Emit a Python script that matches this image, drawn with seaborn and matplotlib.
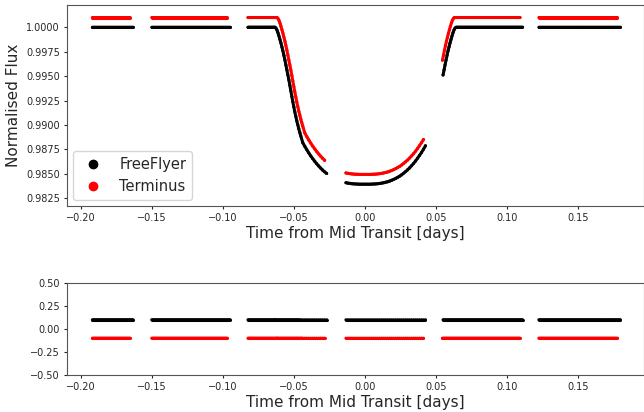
import numpy as np
import pandas as pd
import matplotlib
matplotlib.use("Agg")
import matplotlib.pyplot as plt
from matplotlib.lines import Line2D
import seaborn as sns

# ---------------------------------------------------------------------------
# Light-curve data (time in days from mid-transit)
# ---------------------------------------------------------------------------
instruments = ["FreeFlyer", "Terminus"]
colours = ["black", "red"]

CADENCE = 0.0007  # out-of-transit sampling interval [days]

# observing windows (start, end) for each instrument
ff_windows = [(-0.1920, -0.1627), (-0.1502, -0.0944), (-0.0824, -0.0270),
              (-0.0134, 0.0426), (0.0550, 0.1113), (0.1225, 0.1800)]
tm_windows = [(-0.1920, -0.1648), (-0.1502, -0.0965), (-0.0824, -0.0284),
              (-0.0134, 0.0412), (0.0546, 0.1096), (0.1225, 0.1780)]

# out-of-transit level and transit edges
ff_baseline = 1.000
tm_baseline = 1.001
ff_edges = (-0.0634, 0.0634)
tm_edges = (-0.0620, 0.0623)

# FreeFlyer in-transit samples: (first time, step, flux values)
ff_ingress = (-0.0634, 0.0007, [
    1.00000, 0.99990, 0.99972, 0.99944, 0.99911, 0.99875, 0.99839, 0.99798,
    0.99758, 0.99712, 0.99665, 0.99614, 0.99563, 0.99512, 0.99461, 0.99405,
    0.99348, 0.99292, 0.99236, 0.99185, 0.99133, 0.99087, 0.99041, 0.99001,
    0.98960, 0.98924, 0.98888])
ff_floor_a = (-0.0438, 0.0014, [
    0.98819, 0.98782, 0.98748, 0.98715, 0.98684, 0.98656, 0.98629, 0.98604,
    0.98581, 0.98559, 0.98539, 0.98521, 0.98505])
ff_floor_b = (-0.0134, 0.0014, [
    0.98410, 0.98406, 0.98403, 0.98400, 0.98398, 0.98397, 0.98396, 0.98395,
    0.98395, 0.98395, 0.98395, 0.98395, 0.98395, 0.98396, 0.98397, 0.98398,
    0.98400, 0.98403, 0.98406, 0.98410, 0.98415, 0.98420, 0.98427, 0.98435,
    0.98444, 0.98454, 0.98465, 0.98477, 0.98491, 0.98507, 0.98524, 0.98542,
    0.98562, 0.98584, 0.98607, 0.98632, 0.98660, 0.98689, 0.98719, 0.98752,
    0.98788])
ff_egress = (0.0550, 0.0007, [
    0.99512, 0.99563, 0.99614, 0.99665, 0.99712, 0.99758, 0.99798, 0.99839,
    0.99875, 0.99911, 0.99944, 0.99972, 0.99990])

# Terminus in-transit samples
tm_ingress = (-0.0620, 0.0007, [
    1.00100, 1.00090, 1.00072, 1.00044, 1.00011, 0.99975, 0.99939, 0.99898,
    0.99858, 0.99812, 0.99765, 0.99714, 0.99663, 0.99612, 0.99561, 0.99505,
    0.99448, 0.99392, 0.99336, 0.99285, 0.99233, 0.99187, 0.99141, 0.99101,
    0.99060, 0.99024, 0.98988])
tm_floor_a = (-0.0424, 0.0014, [
    0.98919, 0.98882, 0.98848, 0.98815, 0.98784, 0.98756, 0.98729, 0.98704,
    0.98681, 0.98659, 0.98639])
tm_floor_b = (-0.0134, 0.0014, [
    0.98510, 0.98506, 0.98503, 0.98500, 0.98498, 0.98497, 0.98496, 0.98495,
    0.98495, 0.98495, 0.98495, 0.98495, 0.98495, 0.98496, 0.98497, 0.98498,
    0.98500, 0.98503, 0.98506, 0.98510, 0.98515, 0.98520, 0.98527, 0.98535,
    0.98544, 0.98554, 0.98565, 0.98577, 0.98591, 0.98607, 0.98624, 0.98642,
    0.98662, 0.98684, 0.98707, 0.98732, 0.98760, 0.98789, 0.98819, 0.98852])
tm_egress = (0.0546, 0.0007, [
    0.99663, 0.99714, 0.99765, 0.99812, 0.99858, 0.99898, 0.99939, 0.99975,
    1.00011, 1.00044, 1.00072, 1.00090])

# residual levels (offset for clarity)
ff_resid = 0.10
tm_resid = -0.10

xticks = [-0.20, -0.15, -0.10, -0.05, 0.00, 0.05, 0.10, 0.15]
flux_ticks = [0.9825, 0.9850, 0.9875, 0.9900, 0.9925, 0.9950, 0.9975, 1.0000]
resid_ticks = [-0.50, -0.25, 0.00, 0.25, 0.50]


def build_series(name, windows, baseline, edges, pieces, resid):
    """Flat out-of-transit samples plus the tabulated in-transit ones."""
    t_flat = np.concatenate([np.arange(a, b + 1e-9, CADENCE) for a, b in windows])
    t_flat = t_flat[(t_flat < edges[0] - 1e-9) | (t_flat > edges[1] + 1e-9)]
    times = [t_flat]
    fluxes = [np.full(t_flat.size, baseline)]
    for t0, step, flux in pieces:
        times.append(t0 + step * np.arange(len(flux)))
        fluxes.append(np.asarray(flux))
    t = np.concatenate(times)
    f = np.concatenate(fluxes)
    order = np.argsort(t)
    t, f = t[order], f[order]
    starts = np.array([a for a, _ in windows])
    segment = np.searchsorted(starts, t + 1e-9, side="right") - 1
    return pd.DataFrame({"time": t, "flux": f,
                         "residual": np.full(t.size, resid),
                         "segment": segment,
                         "instrument": name})


df = pd.concat([
    build_series("FreeFlyer", ff_windows, ff_baseline, ff_edges,
                 [ff_ingress, ff_floor_a, ff_floor_b, ff_egress], ff_resid),
    build_series("Terminus", tm_windows, tm_baseline, tm_edges,
                 [tm_ingress, tm_floor_a, tm_floor_b, tm_egress], tm_resid),
], ignore_index=True)

# ---------------------------------------------------------------------------
# Figure
# ---------------------------------------------------------------------------
sns.set_style("ticks")
plt.rcParams["font.family"] = ["DejaVu Sans"]

fig = plt.figure(figsize=(6.44, 4.12), dpi=100)
ax_top = fig.add_axes([67 / 644, 1 - 206 / 412, 576.5 / 644, 201 / 412])
ax_bot = fig.add_axes([67 / 644, 1 - 375 / 412, 576.5 / 644, 92 / 412])

palette = dict(zip(instruments, colours))
for ax, col in ((ax_top, "flux"), (ax_bot, "residual")):
    # dense exposures merge into a continuous trace within each window
    sns.lineplot(data=df, x="time", y=col, hue="instrument", units="segment",
                 estimator=None, sort=True, palette=palette,
                 hue_order=instruments, lw=2.2, legend=False, ax=ax)
    sns.scatterplot(data=df, x="time", y=col, hue="instrument",
                    palette=palette, hue_order=instruments, s=5,
                    linewidth=0, legend=False, ax=ax)

for ax in (ax_top, ax_bot):
    ax.set_xlim(-0.2099, 0.1962)
    ax.set_xticks(xticks)
    ax.set_xlabel("Time from Mid Transit [days]", fontsize=11, labelpad=2)
    ax.tick_params(labelsize=7, length=2.5, pad=2.5, width=0.8)
    for sp in ax.spines.values():
        sp.set_visible(True)
        sp.set_color("#555555")
        sp.set_linewidth(0.8)

ax_top.set_ylim(0.98172, 1.00228)
ax_top.set_yticks(flux_ticks)
ax_top.set_ylabel("Normalised Flux", fontsize=11, labelpad=4)

ax_bot.set_ylim(-0.5, 0.5)
ax_bot.set_yticks(resid_ticks)
ax_bot.set_ylabel("")

handles = [Line2D([], [], marker="o", linestyle="", color=c, markersize=6)
           for c in colours]
ax_top.legend(handles, instruments, loc="lower left", fontsize=10.5,
              handletextpad=0.8, borderaxespad=0.4)

fig.savefig("out.png", dpi=100)
